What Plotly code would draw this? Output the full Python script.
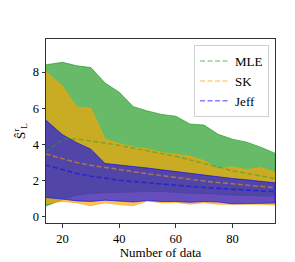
import plotly.graph_objects as go

n_data = [14, 20, 25, 30, 35, 40, 45, 50, 55, 60, 65, 70, 75, 80, 85, 90, 95]

mle_mean = [3.57, 4.30, 4.30, 4.20, 4.08, 3.95, 3.80, 3.65, 3.50, 3.35, 3.15, 2.93, 2.75, 2.55, 2.40, 2.25, 2.12]
mle_upper = [8.40, 8.54, 8.35, 8.25, 7.40, 6.89, 6.09, 5.85, 5.66, 5.56, 5.13, 5.07, 4.56, 4.29, 4.13, 3.85, 3.52]
mle_lower = [0.59, 0.95, 1.20, 1.30, 1.35, 1.35, 1.38, 1.40, 1.40, 1.35, 1.30, 1.30, 1.25, 1.20, 1.20, 1.15, 1.15]

sk_mean = [3.48, 3.20, 3.00, 2.85, 2.72, 2.62, 2.50, 2.38, 2.28, 2.18, 2.05, 1.98, 1.90, 1.82, 1.75, 1.68, 1.61]
sk_upper = [8.04, 7.22, 6.07, 6.00, 4.30, 4.05, 3.85, 3.75, 3.55, 3.45, 3.35, 3.10, 2.65, 2.77, 2.60, 2.73, 2.46]
sk_lower = [0.75, 0.85, 0.78, 0.62, 0.78, 0.68, 0.62, 0.88, 0.78, 0.80, 0.70, 0.78, 0.70, 0.68, 0.70, 0.70, 0.65]

jeff_mean = [2.86, 2.60, 2.40, 2.25, 2.12, 2.02, 1.95, 1.88, 1.80, 1.75, 1.68, 1.62, 1.57, 1.52, 1.47, 1.43, 1.39]
jeff_upper = [5.36, 4.54, 4.10, 3.74, 2.95, 2.88, 2.80, 2.70, 2.60, 2.50, 2.40, 2.30, 2.20, 2.12, 2.05, 1.95, 1.88]
jeff_lower = [1.07, 0.98, 0.88, 0.85, 0.92, 0.85, 0.82, 0.90, 0.85, 0.85, 0.80, 0.85, 0.82, 0.72, 0.75, 0.76, 0.76]

series = [
    ("MLE", mle_mean, mle_upper, mle_lower, (44, 160, 44), 0.72),
    ("SK", sk_mean, sk_upper, sk_lower, (255, 165, 0), 0.65),
    ("Jeff", jeff_mean, jeff_upper, jeff_lower, (0, 0, 255), 0.6),
]

FONT = "Liberation Serif, DejaVu Serif, serif"

fig = go.Figure()
for name, mean, up, lo, rgb, a in series:
    col = "rgba(%d,%d,%d,%.2f)" % (rgb + (a,))
    fig.add_trace(go.Scatter(
        x=n_data + n_data[::-1], y=up + lo[::-1], fill="toself",
        fillcolor=col, line=dict(color=col, width=1), mode="lines",
        showlegend=False, hoverinfo="skip"))

for name, mean, up, lo, rgb, a in series:
    lcol = "rgba(%d,%d,%d,0.5)" % rgb
    fig.add_trace(go.Scatter(
        x=n_data, y=mean, mode="lines", name=name,
        line=dict(color=lcol, width=1.5, dash="5px,2.5px")))

fig.update_layout(
    width=295, height=262,
    margin=dict(l=37, r=28, t=31, b=32),
    paper_bgcolor="white", plot_bgcolor="white",
    font=dict(family=FONT, size=12.5, color="black"),
    legend=dict(x=0.974, y=0.967, xanchor="right", yanchor="top",
                bgcolor="rgba(255,255,255,0.8)", bordercolor="#d0d0d0",
                borderwidth=1, font=dict(size=13, family=FONT),
                itemwidth=30, tracegroupgap=0),
    showlegend=True,
)
fig.update_xaxes(range=[14.15, 95.05], tickvals=[20, 40, 60, 80],
                 showline=True, linecolor="#333", linewidth=1, mirror=True,
                 ticks="outside", ticklen=3.5, tickcolor="#333",
                 showgrid=False, zeroline=False,
                 tickfont=dict(size=12.5, family=FONT),
                 title=dict(text="Number of data", font=dict(size=13, family=FONT), standoff=3))
fig.update_yaxes(range=[-0.34, 9.83], tickvals=[0, 2, 4, 6, 8],
                 showline=True, linecolor="#333", linewidth=1, mirror=True,
                 ticks="outside", ticklen=3.5, tickcolor="#333",
                 showgrid=False, zeroline=False,
                 tickfont=dict(size=12.5, family=FONT),
                 title=dict(text="Ŝ<sup>r</sup><sub>L</sub>", font=dict(size=13, family=FONT), standoff=4))

fig.write_html("out.html")
